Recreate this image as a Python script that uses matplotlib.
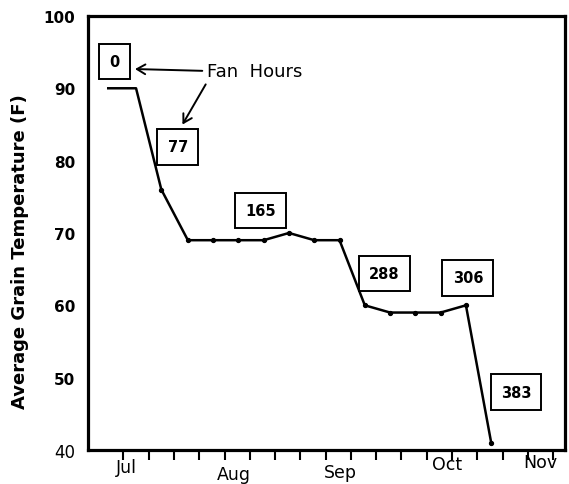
import numpy as np
import matplotlib
matplotlib.use('Agg')
import matplotlib.pyplot as plt

# weeks after the first tick (early July), mid-week readings
weeks = [-0.6, 0.5, 1.5, 2.55, 3.55, 4.55, 5.55, 6.55, 7.55, 8.55,
         9.55, 10.55, 11.55, 12.55, 13.55, 14.55]
temps = [90, 90, 76, 69, 69, 69, 69, 70, 69, 69, 60, 59, 59, 59, 60, 41]

# cumulative fan hours boxes
fan_hours = ['0', '77', '165', '288', '306', '383']
box_x = [-0.34, 2.15, 5.44, 10.31, 13.63, 15.53]
box_y = [93.7, 81.9, 73.1, 64.4, 63.8, 48.0]

months = ['Jul', 'Aug', 'Sep', 'Oct', 'Nov']
month_x = [0.13, 4.38, 8.57, 12.8, 16.48]
month_y = [37.65, 36.7, 36.95, 38.05, 38.3]

yticks = [40, 50, 60, 70, 80, 90, 100]

fig = plt.figure(figsize=(5.69, 4.85), dpi=100)
ax = fig.add_axes([0.1547, 0.0701, 0.8383, 0.895])

ax.plot(weeks, temps, color='black', lw=1.8, marker='o', ms=2.8,
        markevery=list(range(2, len(weeks))))

ax.set_xlim(-1.40, 17.47)
ax.set_ylim(40, 100)

# weekly ticks along the bottom, no labels
ax.set_xticks(np.arange(0, 18))
ax.set_xticklabels([])
ax.tick_params(axis='x', direction='out', length=7, width=1.5)

ax.set_yticks(yticks)
ax.set_yticklabels([str(v) for v in yticks])
ax.tick_params(axis='y', length=0, pad=9)
for lab in ax.get_yticklabels():
    if lab.get_text() == '40':
        lab.set_fontweight('normal')
        lab.set_fontsize(12)
    else:
        lab.set_fontweight('heavy')
        lab.set_fontsize(11)

for s in ax.spines.values():
    s.set_linewidth(2.3)

for m, mx, my in zip(months, month_x, month_y):
    ax.text(mx, my, m, ha='center', va='center', fontsize=12.5,
            clip_on=False)

for lab, bx, by in zip(fan_hours, box_x, box_y):
    ax.text(bx, by, lab, ha='center', va='center', fontsize=10.5,
            fontweight='heavy',
            bbox=dict(boxstyle='square,pad=0.7', fc='white', ec='black',
                      lw=1.4))

ax.text(3.31, 92.4, 'Fan  Hours', ha='left', va='center', fontsize=13)
ax.annotate('', xy=(0.35, 92.67), xytext=(3.23, 92.4),
            arrowprops=dict(arrowstyle='->,head_length=0.6,head_width=0.35',
                            color='black', lw=1.4))
ax.annotate('', xy=(2.28, 84.65), xytext=(3.31, 90.87),
            arrowprops=dict(arrowstyle='->,head_length=0.6,head_width=0.35',
                            color='black', lw=1.4))

fig.text(20 / 569, 0.4814, 'Average Grain Temperature (F)', rotation=90,
         ha='center', va='center', fontsize=13, fontweight='bold')

fig.savefig('out.png', dpi=100)
